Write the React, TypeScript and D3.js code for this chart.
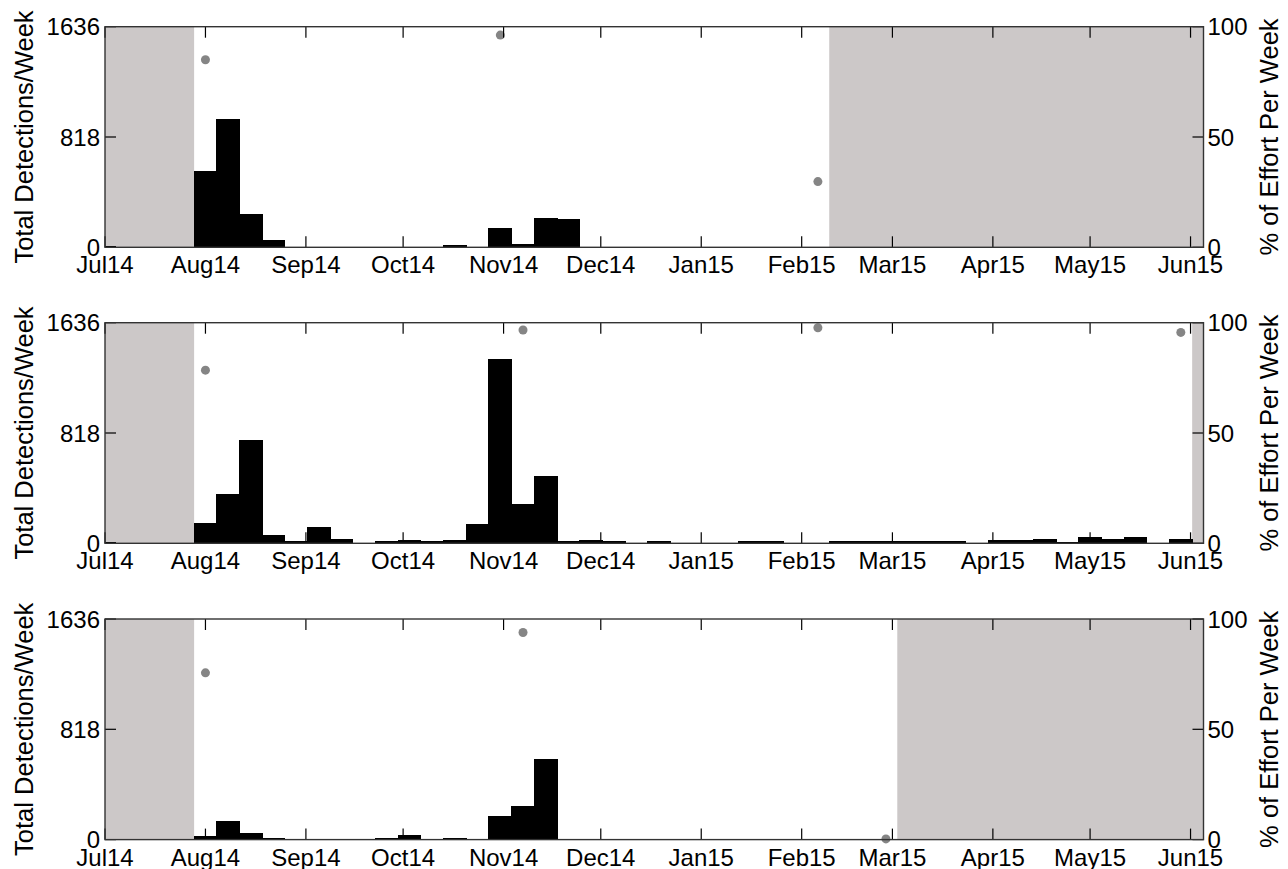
import * as d3 from 'd3';

// Weekly bins start on this date; week k spans [start + 7k days, start + 7(k+1) days)
const WEEK_START = new Date(2014, 6, 28, 12);
// partial week that ends just after the start of the axis (visible as a sliver)
const LEAD_WEEK_START = new Date(2014, 5, 27, 12);
const X_DOMAIN: [Date, Date] = [new Date(2014, 6, 1), new Date(2015, 5, 5)];

const DET_MAX = 1636;
const detTicks = [0, 818, 1636];
const effortTicks = [0, 50, 100];

// total detections per week, one array per site (week index from WEEK_START)
const detections1 = [561, 949, 240, 47, 0, 0, 0, 0, 0, 0, 0, 12, 0, 136, 22, 215, 205];
const detections2 = [
  148, 363, 764, 57, 12, 116, 30, 0, 12, 20, 12, 22, 143, 1364, 291, 492, 12, 22, 12, 0,
  12, 0, 0, 0, 12, 12, 0, 0, 12, 12, 12, 12, 12, 12, 0, 20, 20, 30, 5, 44, 30, 44, 0, 30,
];
const detections3 = [25, 133, 42, 10, 0, 0, 0, 0, 10, 27, 0, 10, 0, 168, 245, 595];
const leadDetections = [6, 6, 6];

// weeks with partial recording effort (week index, % of effort)
const effortWeeks1 = [0, 13, 27];
const effortPct1 = [85, 96.2, 29.8];
const effortWeeks2 = [0, 14, 27, 43];
const effortPct2 = [78.5, 96.7, 97.7, 95.6];
const effortWeeks3 = [0, 14, 30];
const effortPct3 = [75.6, 93.9, 0.3];

// periods with no recording (shaded)
const noEffort1: [Date, Date][] = [
  [new Date(2014, 6, 1), new Date(2014, 6, 28, 12)],
  [new Date(2015, 1, 9, 12), new Date(2015, 5, 5)],
];
const noEffort2: [Date, Date][] = [
  [new Date(2014, 6, 1), new Date(2014, 6, 28, 12)],
  [new Date(2015, 5, 1, 12), new Date(2015, 5, 5)],
];
const noEffort3: [Date, Date][] = [
  [new Date(2014, 6, 1), new Date(2014, 6, 28, 12)],
  [new Date(2015, 2, 2, 12), new Date(2015, 5, 5)],
];

const panels = [
  { det: detections1, weeks: effortWeeks1, pct: effortPct1, gaps: noEffort1, lead: leadDetections[0] },
  { det: detections2, weeks: effortWeeks2, pct: effortPct2, gaps: noEffort2, lead: leadDetections[1] },
  { det: detections3, weeks: effortWeeks3, pct: effortPct3, gaps: noEffort3, lead: leadDetections[2] },
];

const W = 1288;
const H = 869;
const LEFT = 105;
const RIGHT = 1203.5;
const PANEL_TOPS = [26.7, 322.7, 619];
const PANEL_H = 220.6;
const FONT = '"Liberation Sans", Arial, sans-serif';
const FS = 24;
const TITLE_FS = 25.5;
const TICK = 11;

const weekDate = (k: number) => d3.timeDay.offset(WEEK_START, 7 * k);
const fmt = d3.timeFormat('%b%y');

function Panel({ idx }: { idx: number }) {
  const p = panels[idx];
  const top = PANEL_TOPS[idx];
  const bottom = top + PANEL_H;

  const x = d3.scaleTime().domain(X_DOMAIN).range([LEFT, RIGHT]);
  const yL = d3.scaleLinear().domain([0, DET_MAX]).range([bottom, top]);
  const yR = d3.scaleLinear().domain([0, 100]).range([bottom, top]);
  const months = d3.timeMonth.range(X_DOMAIN[0], X_DOMAIN[1]);
  const clipId = `clip-${idx}`;

  return (
    <g>
      <clipPath id={clipId}>
        <rect x={LEFT} y={top} width={RIGHT - LEFT} height={PANEL_H} />
      </clipPath>

      {/* no-effort shading */}
      {p.gaps.map(([a, b], i) => (
        <rect key={'g' + i} x={x(a)} y={top} width={x(b) - x(a)} height={PANEL_H} fill="#ccc8c8" />
      ))}

      {/* weekly detection bars */}
      <g clipPath={`url(#${clipId})`} shapeRendering="crispEdges">
        <rect
          x={x(LEAD_WEEK_START)}
          y={yL(p.lead)}
          width={x(d3.timeDay.offset(LEAD_WEEK_START, 7)) - x(LEAD_WEEK_START)}
          height={bottom - yL(p.lead)}
          fill="#000"
        />
        {p.det.map((v, k) =>
          v > 0 ? (
            <rect
              key={'b' + k}
              x={x(weekDate(k))}
              y={yL(v)}
              width={x(weekDate(k + 1)) - x(weekDate(k))}
              height={bottom - yL(v)}
              fill="#000"
              stroke="#000"
              strokeWidth={1}
            />
          ) : null
        )}
      </g>

      {/* effort dots */}
      {p.weeks.map((k, i) => (
        <circle
          key={'d' + i}
          cx={x(d3.timeHour.offset(weekDate(k), 84))}
          cy={yR(p.pct[i])}
          r={4.5}
          fill="#858585"
        />
      ))}

      {/* month ticks top & bottom */}
      {months.map((m, i) => (
        <g key={'t' + i} stroke="#000" strokeWidth={1.2}>
          <line x1={x(m)} x2={x(m)} y1={bottom} y2={bottom - TICK} />
          <line x1={x(m)} x2={x(m)} y1={top} y2={top + TICK} />
        </g>
      ))}
      {months.map((m, i) => (
        <text
          key={'tl' + i}
          x={x(m)}
          y={bottom + 26}
          textAnchor="middle"
          fontFamily={FONT}
          fontSize={FS}
          fill="#000"
        >
          {fmt(m)}
        </text>
      ))}

      {/* left axis */}
      {detTicks.map((t) => (
        <g key={'l' + t}>
          <line x1={LEFT} x2={LEFT + TICK} y1={yL(t)} y2={yL(t)} stroke="#000" strokeWidth={1.2} />
          <text
            x={LEFT - 5}
            y={yL(t)}
            dy="0.36em"
            textAnchor="end"
            fontFamily={FONT}
            fontSize={FS}
            fill="#000"
          >
            {t}
          </text>
        </g>
      ))}

      {/* right axis */}
      {effortTicks.map((t) => (
        <g key={'r' + t}>
          <line x1={RIGHT} x2={RIGHT - TICK} y1={yR(t)} y2={yR(t)} stroke="#000" strokeWidth={1.2} />
          <text
            x={RIGHT + 4}
            y={yR(t)}
            dy="0.36em"
            textAnchor="start"
            fontFamily={FONT}
            fontSize={FS}
            fill="#000"
          >
            {t}
          </text>
        </g>
      ))}

      {/* box */}
      <rect x={LEFT} y={top} width={RIGHT - LEFT} height={PANEL_H} fill="none" stroke="#333" strokeWidth={1.4} />

      {/* axis titles */}
      <text
        transform={`translate(33,${(top + bottom) / 2}) rotate(-90)`}
        textAnchor="middle"
        fontFamily={FONT}
        fontSize={TITLE_FS}
        fill="#000"
      >
        Total Detections/Week
      </text>
      <text
        transform={`translate(1278,${(top + bottom) / 2}) rotate(-90)`}
        textAnchor="middle"
        fontFamily={FONT}
        fontSize={TITLE_FS}
        fill="#000"
      >
        % of Effort Per Week
      </text>
    </g>
  );
}

export default function App() {
  return (
    <svg
      width={W}
      height={H}
      viewBox={`0 0 ${W} ${H}`}
      style={{ position: 'absolute', left: 0, top: 0, background: '#fff', display: 'block' }}
    >
      <rect width={W} height={H} fill="#fff" />
      {panels.map((_, i) => (
        <Panel key={i} idx={i} />
      ))}
    </svg>
  );
}
